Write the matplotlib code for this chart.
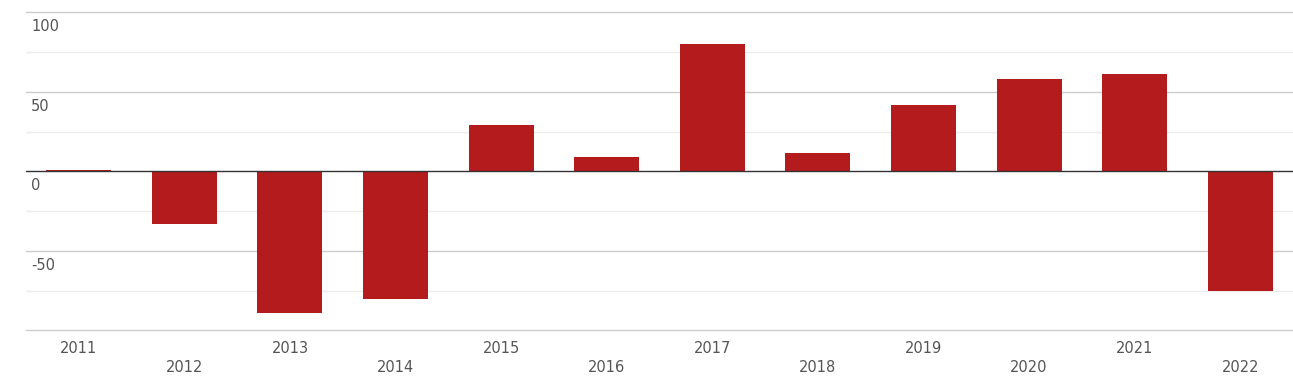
import matplotlib
matplotlib.use('Agg')
import matplotlib.pyplot as plt
import matplotlib.transforms as mtransforms

years = ['2011', '2012', '2013', '2014', '2015', '2016', '2017', '2018', '2019', '2020', '2021', '2022']
values = [0.7, -33, -89, -80, 29, 9, 80, 11.5, 42, 58, 61, -75]
y_ticks = [100, 50, 0, -50]

bar_color = '#b41b1d'
text_color = '#555555'

fig = plt.figure(figsize=(12.93, 3.84), dpi=100)
ax = fig.add_axes([26 / 1293, 1 - 330.3 / 384, 1 - 26 / 1293, 318 / 384])

x = list(range(len(years)))
ax.bar(x, values, width=0.615, color=bar_color, zorder=3)

ax.set_xlim(-0.5, len(years) - 0.5)
ax.set_ylim(-100, 100)

# grid lines
for v in [100, 50, -50, -100]:
    ax.axhline(v, color='#cccccc', lw=1, zorder=1, clip_on=False)
for v in [75, 25, -25, -75]:
    ax.axhline(v, color='#ececec', lw=1, zorder=1)
ax.axhline(0, color='#333333', lw=1, zorder=4)

for s in ax.spines.values():
    s.set_visible(False)
ax.set_xticks([])
ax.set_yticks([])

# y labels inside the plot, below each line
ytrans = mtransforms.offset_copy(ax.get_yaxis_transform(), fig=fig, x=5, y=-7, units='dots')
for v in y_ticks:
    ax.text(0, v, str(v), transform=ytrans, ha='left', va='top',
            fontsize=10.5, color=text_color)

# year labels in two staggered rows
xtrans = ax.get_xaxis_transform()
for i, yr in enumerate(years):
    off = -11 if i % 2 == 0 else -30
    tr = mtransforms.offset_copy(xtrans, fig=fig, x=0, y=off, units='dots')
    ax.text(i, 0, yr, transform=tr, ha='center', va='top',
            fontsize=10.5, color=text_color)

fig.savefig('out.png', dpi=100)
